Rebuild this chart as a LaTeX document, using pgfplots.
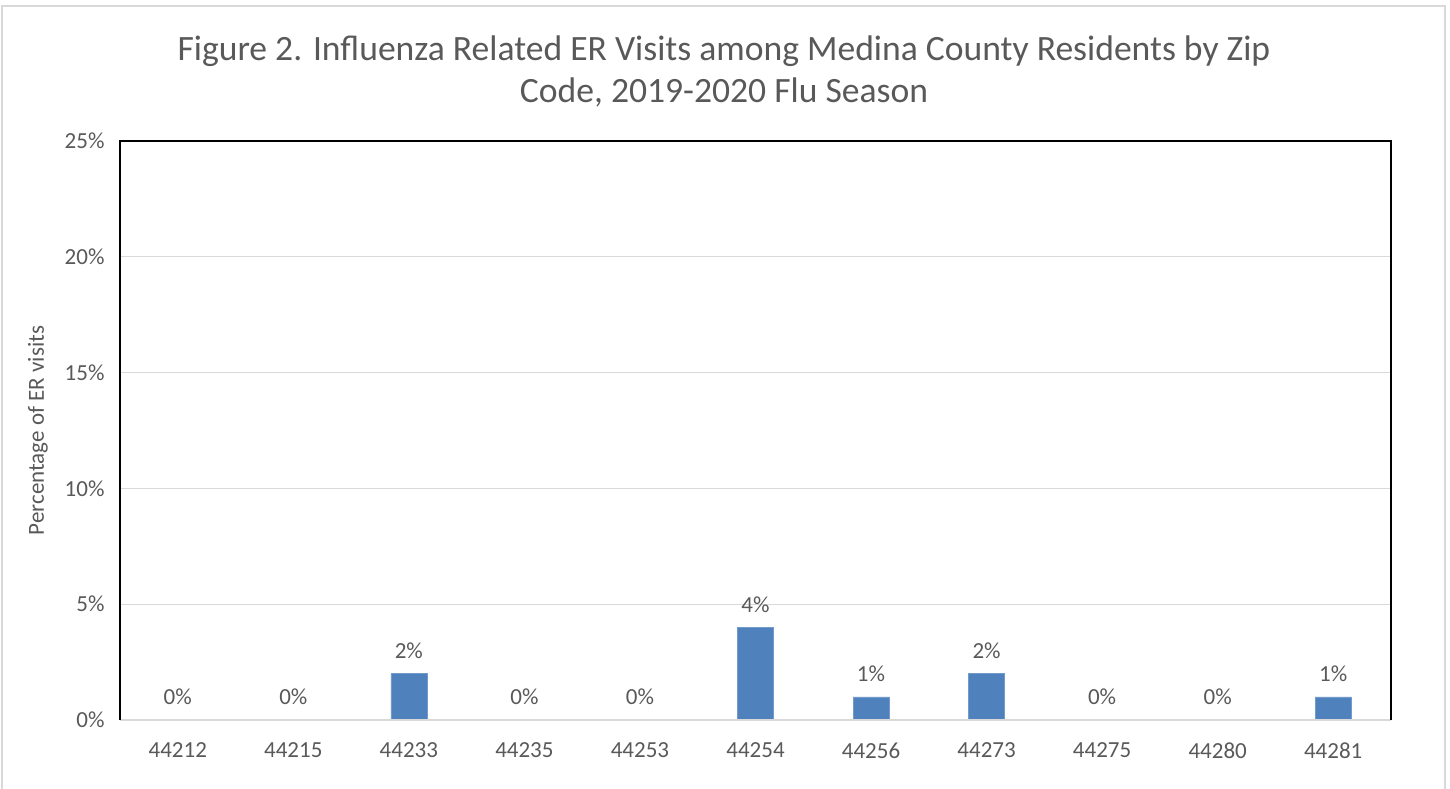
\documentclass[border=0pt]{standalone}
\usepackage{pgfplots}
\pgfplotsset{compat=1.18}
\usepackage{fontspec}
\setmainfont{Carlito}
\definecolor{txt}{HTML}{595959}
\definecolor{barblue}{HTML}{4F81BD}
\definecolor{gridgray}{HTML}{D9D9D9}
\begin{document}
\begin{tikzpicture}
\path[use as bounding box] (-120pt,-69pt) rectangle (1330pt,720pt);
\draw[gridgray, line width=2.5pt] (-118pt,-80pt) -- (-118pt,714pt) -- (1325pt,714pt) -- (1325pt,-80pt);
\node[txt, align=center, font=\fontsize{35.6}{42}\selectfont] at (604pt,649pt)
  {Figure 2. Influenza Related ER Visits among Medina County Residents by Zip\\Code, 2019-2020 Flu Season};
\begin{axis}[
  scale only axis, width=1271pt, height=579pt,
  xmin=-0.5, xmax=10.5, ymin=0, ymax=25,
  ybar, bar width=36pt,
  axis line style={draw=none},
  xtick={0,...,10},
  xticklabels={44212,44215,44233,44235,44253,44254,44256,44273,44275,44280,44281},
  ytick={0,5,...,25},
  yticklabel={\pgfmathprintnumber{\tick}\%},
  /pgf/number format/assume math mode=true,
  major tick length=0pt,
  ymajorgrids, grid style={gridgray, line width=1pt},
  tick label style={txt, font=\fontsize{23}{26}\selectfont},
  xticklabel style={yshift=-19pt},
  yticklabel style={xshift=-12pt},
  every axis y label/.style={at={(rel axis cs:0,0.5)}, xshift=-82pt, rotate=90, anchor=center},
  ylabel={Percentage of ER visits},
  ylabel style={txt, font=\fontsize{23}{26}\selectfont},
  nodes near coords={\pgfmathprintnumber{\pgfplotspointmeta}\%},
  nodes near coords style={txt, font=\fontsize{23}{26}\selectfont, anchor=center, yshift=23pt,
    /pgf/number format/fixed, /pgf/number format/precision=0, /pgf/number format/assume math mode=true},
  clip=false,
]
\addplot[fill=barblue, draw=barblue!80!white] coordinates {
  (0,0) (1,0) (2,2) (3,0) (4,0) (5,4) (6,1) (7,2) (8,0) (9,0) (10,1)
};
\draw[gridgray, line width=1.3pt] (rel axis cs:0,0) -- (rel axis cs:1,0);
\draw[black, line width=1.3pt] (rel axis cs:0,0) -- (rel axis cs:0,1) -- (rel axis cs:1,1) -- (rel axis cs:1,0);
\end{axis}
\end{tikzpicture}
\end{document}
